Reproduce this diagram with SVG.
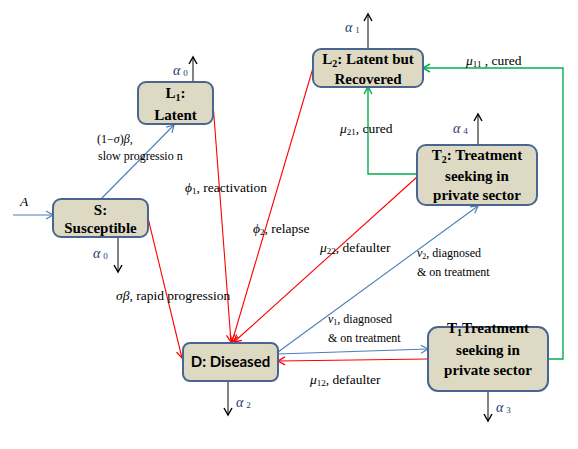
<svg xmlns="http://www.w3.org/2000/svg" width="578" height="449" viewBox="0 0 578 449">
<style>
.node{fill:#ddd9c3;stroke:#4a6590;stroke-width:2}
.nt{font-family:'Liberation Serif','Times New Roman',Tinos,'DejaVu Serif',serif;font-weight:bold;font-size:15px;fill:#000;text-anchor:middle}
.ns{font-family:Lato,'Liberation Sans',sans-serif;font-weight:bold;font-size:15px;fill:#000;text-anchor:middle}
.lb{font-family:'Liberation Serif','Times New Roman',Tinos,'DejaVu Serif',serif;font-size:12px;fill:#000}
.lb13{font-family:'Liberation Serif','Times New Roman',Tinos,'DejaVu Serif',serif;font-size:13.5px;fill:#000}
.gr{font-style:italic}
.al{font-family:'Liberation Serif','Times New Roman',Tinos,'DejaVu Serif',serif;font-size:14px;font-style:italic;fill:#1f3a6e}
.sub{font-size:9px;font-style:normal}
.blk{stroke:#404040;stroke-width:1.3;fill:none}
.blu{stroke:#4a7ebb;stroke-width:1.1;fill:none}
.red{stroke:#ff0000;stroke-width:1.1;fill:none}
.grn{stroke:#00b050;stroke-width:1.4;fill:none}
</style>
<defs>
<marker id="mk" markerUnits="userSpaceOnUse" markerWidth="12" markerHeight="12" refX="8" refY="5" orient="auto"><path d="M1,1 L8,5 L1,9" fill="none" stroke="#000" stroke-width="1.4"/></marker>
<marker id="mb" markerUnits="userSpaceOnUse" markerWidth="12" markerHeight="12" refX="8" refY="5" orient="auto"><path d="M1,1 L8,5 L1,9" fill="none" stroke="#4a7ebb" stroke-width="1.2"/></marker>
<marker id="mr" markerUnits="userSpaceOnUse" markerWidth="12" markerHeight="12" refX="8" refY="5" orient="auto"><path d="M1,1 L8,5 L1,9" fill="none" stroke="#ff0000" stroke-width="1.3"/></marker>
<marker id="mg" markerUnits="userSpaceOnUse" markerWidth="12" markerHeight="12" refX="8" refY="5" orient="auto"><path d="M1,1 L8,5 L1,9" fill="none" stroke="#00b050" stroke-width="1.5"/></marker>
</defs>
<rect width="578" height="449" fill="#fff"/>
<g id="connectors">
<path class="blk" d="M193,82 L193,57" marker-end="url(#mk)"/>
<path class="blk" d="M118,237 L118,272" marker-end="url(#mk)"/>
<path class="blk" d="M368,49 L368,14" marker-end="url(#mk)"/>
<path class="blk" d="M478,145 L478,114" marker-end="url(#mk)"/>
<path class="blk" d="M228,381 L228,415" marker-end="url(#mk)"/>
<path class="blk" d="M488,391 L488,421" marker-end="url(#mk)"/>
<path class="blu" d="M13,215 L53,215" marker-end="url(#mb)"/>
<path class="blu" d="M101,199 L174,125" marker-end="url(#mb)"/>
<path class="blu" d="M278,352 L478,206" marker-end="url(#mb)"/>
<path class="blu" d="M278,354 L428,349" marker-end="url(#mb)"/>
<path class="red" d="M148,218 L182,358" marker-end="url(#mr)"/>
<path class="red" d="M213,103 L231,342" marker-end="url(#mr)"/>
<path class="red" d="M313,68 L232,342" marker-end="url(#mr)"/>
<path class="red" d="M417,177 L234,342" marker-end="url(#mr)"/>
<path class="red" d="M428,359 L278,361" marker-end="url(#mr)"/>
<path class="grn" d="M548,359 L563,359 L563,68 L423,68" marker-end="url(#mg)"/>
<path class="grn" d="M417,174 L368,174 L368,87" marker-end="url(#mg)"/>
<text class="al" x="173" y="75">α<tspan class="sub" dx="3" dy="1">0</tspan></text>
<text class="al" x="93" y="258">α<tspan class="sub" dx="3" dy="1">0</tspan></text>
<text class="al" x="345" y="32">α<tspan class="sub" dx="3" dy="1" fill="#7a2a10">1</tspan></text>
<text class="al" x="453" y="133">α<tspan class="sub" dx="3" dy="1">4</tspan></text>
<text class="al" x="236" y="407">α<tspan class="sub" dx="3" dy="1">2</tspan></text>
<text class="al" x="496" y="412">α<tspan class="sub" dx="3" dy="1">3</tspan></text>
<text class="lb13" x="20" y="206" font-style="italic" font-size="16">A</text>
<text class="lb" x="97" y="143">(1−<tspan class="gr">σ</tspan>)<tspan class="gr">β</tspan>,</text>
<text class="lb" x="98" y="160">slow progressio n</text>
<text class="lb13" x="185" y="192"><tspan class="gr">ϕ</tspan><tspan font-size="9" dy="2">1</tspan><tspan dy="-2">, reactivation</tspan></text>
<text class="lb13" x="253" y="233"><tspan class="gr">ϕ</tspan><tspan font-size="9" dy="2">2</tspan><tspan dy="-2">, relapse</tspan></text>
<text class="lb13" x="116" y="300" font-size="14"><tspan class="gr">σβ</tspan>, rapid progression</text>
<text class="lb13" x="320" y="252"><tspan class="gr">μ</tspan><tspan font-size="9" dy="2">22</tspan><tspan dy="-2">, defaulter</tspan></text>
<text class="lb" x="417" y="257"><tspan class="gr">ν</tspan><tspan font-size="8" dy="2">2</tspan><tspan dy="-2">, diagnosed</tspan></text>
<text class="lb" x="417" y="276">&amp; on treatment</text>
<text class="lb13" x="340" y="133"><tspan class="gr">μ</tspan><tspan font-size="9" dy="2">21</tspan><tspan dy="-2">, cured</tspan></text>
<text class="lb13" x="466" y="65"><tspan class="gr">μ</tspan><tspan font-size="9" dy="2">11</tspan><tspan dy="-2"> , cured</tspan></text>
<text class="lb" x="328" y="323"><tspan class="gr">ν</tspan><tspan font-size="8" dy="2">1</tspan><tspan dy="-2">, diagnosed</tspan></text>
<text class="lb" x="328" y="342">&amp; on treatment</text>
<text class="lb13" x="310" y="384" font-size="14"><tspan class="gr">μ</tspan><tspan font-size="9" dy="2">12</tspan><tspan dy="-2">, defaulter</tspan></text>
</g>
<g id="L1">
<rect class="node" x="138" y="82" width="75" height="42" rx="8"/>
<text class="nt" x="175.5" y="98">L<tspan font-size="10" dy="3">1</tspan><tspan dy="-3">:</tspan></text>
<text class="nt" x="175.5" y="120">Latent</text>
</g>
<g id="S">
<rect class="node" x="53" y="199" width="95" height="38" rx="8"/>
<text class="nt" x="100.5" y="215">S:</text>
<text class="nt" x="100.5" y="233">Susceptible</text>
</g>
<g id="L2">
<rect class="node" x="313" y="49" width="110" height="38" rx="8"/>
<text class="nt" x="368" y="64">L<tspan font-size="10" dy="3">2</tspan><tspan dy="-3">: Latent but</tspan></text>
<text class="nt" x="368" y="84">Recovered</text>
</g>
<g id="T2">
<rect class="node" x="417" y="145" width="120" height="60" rx="9"/>
<text class="nt" x="477" y="160">T<tspan font-size="10" dy="3">2</tspan><tspan dy="-3">: Treatment</tspan></text>
<text class="nt" x="477" y="181">seeking in</text>
<text class="nt" x="477" y="200">private sector</text>
</g>
<g id="D">
<rect class="node" x="183" y="343" width="95" height="38" rx="7"/>
<text class="ns" x="230.5" y="367">D: Diseased</text>
</g>
<g id="T1">
<rect class="node" x="428" y="327" width="120" height="64" rx="10"/>
<text class="nt" x="488" y="333">T<tspan font-size="10" dy="3">1</tspan><tspan dy="-3">Treatment</tspan></text>
<text class="nt" x="488" y="355">seeking in</text>
<text class="nt" x="488" y="375">private sector</text>
</g>
</svg>
